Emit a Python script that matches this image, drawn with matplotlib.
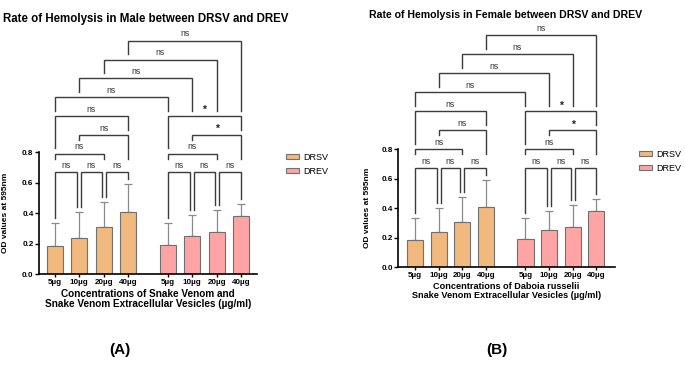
import matplotlib
matplotlib.use("Agg")
import matplotlib.pyplot as plt
from matplotlib.patches import Patch
import numpy as np

plt.rcParams['font.family'] = ['Liberation Sans', 'DejaVu Sans']

# ---------------- data ----------------
doses = ["5µg", "10µg", "20µg", "40µg"]
series = ["DRSV", "DREV"]

male_drsv_mean = [0.186, 0.240, 0.308, 0.407]
male_drsv_sd = [0.148, 0.167, 0.168, 0.187]
male_drev_mean = [0.194, 0.251, 0.279, 0.380]
male_drev_sd = [0.144, 0.136, 0.141, 0.083]

female_drsv_mean = [0.185, 0.239, 0.307, 0.406]
female_drsv_sd = [0.147, 0.165, 0.171, 0.187]
female_drev_mean = [0.194, 0.250, 0.275, 0.379]
female_drev_sd = [0.142, 0.133, 0.145, 0.081]

yticks = [0.0, 0.2, 0.4, 0.6, 0.8]

# comparisons: (bar index a, bar index b, label); bars 0-3 DRSV, 4-7 DREV
adjacent_pairs = [(0, 1, "ns"), (1, 2, "ns"), (2, 3, "ns"),
                  (4, 5, "ns"), (5, 6, "ns"), (6, 7, "ns")]
upper_pairs = [(0, 2, "ns"), (4, 6, "ns"),
               (1, 3, "ns"), (5, 7, "*"),
               (0, 3, "ns"), (4, 7, "*"),
               (0, 4, "ns"), (1, 5, "ns"), (2, 6, "ns"), (3, 7, "ns")]
# layout of upper brackets: level and leg-bottom levels (in level units)
upper_layout = [(1, 0.74, 0.74), (1, 0.74, 0.74),
                (2, 1.74, 0.74), (2, 1.74, 0.74),
                (3, 1.28, 2.28), (3, 1.28, 2.28),
                (4, 3.28, 3.28), (5, 4.28, 3.28), (6, 5.28, 3.28), (7, 6.28, 3.28)]

C_DRSV = "#F1B97D"
C_DREV = "#FFA4A4"
C_EDGE = "#707070"
C_ERR = "#8a8a8a"
C_BR = "#3c3c3c"

W, H = 685, 375
fig = plt.figure(figsize=(W / 100, H / 100), dpi=100)


def make_panel(px_left, px_right, px_y0, px_unit, px_first, px_unit_x, gap_units,
               drsv_m, drsv_s, drev_m, drev_s, lvl0, lvl_step, title, title_xy, title_fs,
               xlabel_lines, xlabel_fs, leg_xy, panel_label, panel_xy, ylab_px):
    ytop = 1.68
    bottom = (H - px_y0) / H
    height = ytop * px_unit / H
    left = px_left / W
    width = (px_right - px_left) / W
    ax = fig.add_axes([left, bottom, width, height])
    x_drsv = np.arange(4, dtype=float)
    x_drev = np.arange(4, dtype=float) + 3 + gap_units
    xs = np.concatenate([x_drsv, x_drev])
    means = np.array(drsv_m + drev_m)
    sds = np.array(drsv_s + drev_s)
    bw = 16.2 / px_unit_x
    ax.bar(x_drsv, drsv_m, width=bw, color=C_DRSV, edgecolor=C_EDGE, linewidth=0.8, zorder=2)
    ax.bar(x_drev, drev_m, width=bw, color=C_DREV, edgecolor=C_EDGE, linewidth=0.8, zorder=2)
    ax.errorbar(xs, means, yerr=[np.zeros(8), sds], fmt='none', ecolor=C_ERR,
                elinewidth=0.9, capsize=3, capthick=0.9, zorder=1)
    xl = -(px_first - px_left) / px_unit_x
    xr = (px_right - px_first) / px_unit_x
    ax.set_xlim(xl, xr)
    ax.set_ylim(0, ytop)
    for s in ['top', 'right']:
        ax.spines[s].set_visible(False)
    ax.spines['left'].set_bounds(0, 0.8)
    ax.spines['left'].set_linewidth(1.2)
    ax.spines['bottom'].set_linewidth(1.2)
    ax.set_yticks(yticks)
    ax.set_yticklabels([f"{v:.1f}" for v in yticks], fontsize=5.8, fontweight='bold')
    ax.set_xticks(xs)
    ax.set_xticklabels(doses + doses, fontsize=5.8, fontweight='bold')
    ax.tick_params(axis='y', length=3, width=1.0, pad=1)
    ax.tick_params(axis='x', length=2.5, width=1.0, pad=1)
    ax.set_ylabel("OD values at 595nm", fontsize=6, fontweight='bold')
    ax.yaxis.set_label_coords((ylab_px - px_left) / (px_right - px_left), 0.4 / ytop)
    ax.set_xlabel("\n".join(xlabel_lines), fontsize=xlabel_fs, fontweight='bold',
                  linespacing=0.95, labelpad=2)
    ax.patch.set_alpha(0)

    err_top = means + sds
    gap = 5.0 / px_unit
    d = 2.0 / px_unit_x

    def bracket(xa, xb, y, ba, bb, label):
        ax.plot([xa, xa, xb, xb], [ba, y, y, bb], color=C_BR, lw=1.0,
                solid_joinstyle='miter', clip_on=False, zorder=3)
        if label == "*":
            ax.annotate(label, ((xa + xb) / 2, y), xytext=(0, 0.6), textcoords='offset points',
                        ha='center', va='bottom', fontsize=7.5, fontweight='bold', color='#222')
        else:
            ax.annotate(label, ((xa + xb) / 2, y), xytext=(0, 1.6), textcoords='offset points',
                        ha='center', va='bottom', fontsize=6.2, color='#333')

    for a, b, lab in adjacent_pairs:
        xa = xs[a] + (d if a not in (0, 4) else 0)
        xb = xs[b] - (d if b not in (3, 7) else 0)
        bracket(xa, xb, lvl0, err_top[a] + gap, err_top[b] + gap, lab)
    for (a, b, lab), (lv, la, lb) in zip(upper_pairs, upper_layout):
        bracket(xs[a], xs[b], lvl0 + lv * lvl_step, lvl0 + la * lvl_step,
                lvl0 + lb * lvl_step, lab)

    fig.text(title_xy[0] / W, 1 - title_xy[1] / H, title, fontsize=title_fs,
             fontweight='bold', ha='left', va='center')
    handles = [Patch(facecolor=C_DRSV, edgecolor=C_EDGE, linewidth=0.8, label=series[0]),
               Patch(facecolor=C_DREV, edgecolor=C_EDGE, linewidth=0.8, label=series[1])]
    fig.legend(handles=handles, loc='upper left',
               bbox_to_anchor=(leg_xy[0] / W, 1 - leg_xy[1] / H), frameon=False,
               fontsize=6.5, handlelength=1.4, handleheight=0.5, handletextpad=0.5,
               labelspacing=0.5, borderpad=0, borderaxespad=0)
    fig.text(panel_xy[0] / W, 1 - panel_xy[1] / H, panel_label, fontsize=11,
             fontweight='bold', ha='center', va='center')
    return ax


make_panel(39, 257, 274.3, 152.5, 55, 24.35, 1.64,
           male_drsv_mean, male_drsv_sd, male_drev_mean, male_drev_sd,
           0.668, 0.1234, "Rate of Hemolysis in Male between DRSV and DREV", (3, 19), 8.3,
           ["Concentrations of Snake Venom and", "Snake Venom Extracellular Vesicles (µg/ml)"],
           7.2, (286, 153), "(A)", (120, 350), 9)

make_panel(398.3, 615, 267.3, 147.7, 415, 23.6, 1.68,
           female_drsv_mean, female_drsv_sd, female_drev_mean, female_drev_sd,
           0.67, 0.129, "Rate of Hemolysis in Female between DRSV and DREV", (369, 15), 7.6,
           ["Concentrations of Daboia russelii", "Snake Venom Extracellular Vesicles (µg/ml)"],
           6.6, (639, 150), "(B)", (497, 350), 371)

fig.savefig("out.png", dpi=100)
